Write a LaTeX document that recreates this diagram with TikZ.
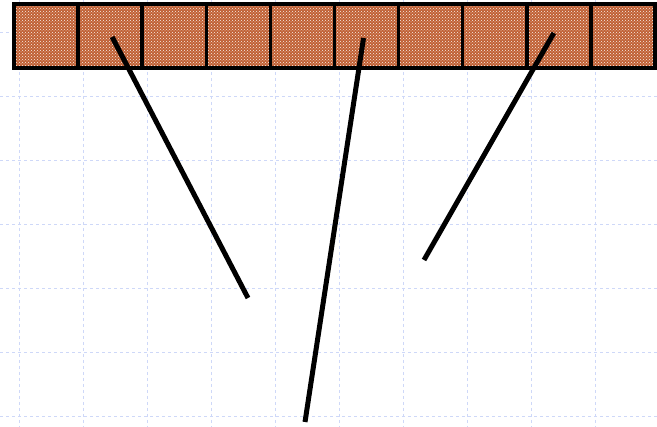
\documentclass[tikz,border=0pt]{standalone}
\usepackage{tikz}
\usetikzlibrary{positioning, calc, patterns}

\definecolor{brick}{RGB}{192,96,52}
\definecolor{gridlav}{RGB}{206,216,248}

\begin{document}
\begin{tikzpicture}[
        x=1pt, y=-1pt,
        cell/.style={draw, line width=3.5pt, minimum width=64.1pt, minimum height=64pt, inner sep=0pt, outer sep=0pt,
            preaction={fill=brick}, pattern=crosshatch dots, pattern color=white!90!brick},
        link/.style={line width=5pt},
        node distance=0pt
    ]
        \useasboundingbox (0,0) rectangle (657,427);

        % background grid
        \foreach \gx in {19,83,...,660} \draw[gridlav, dashed, line width=1pt] (\gx,0) -- (\gx,427);
        \foreach \gy in {33,97,...,430} \draw[gridlav, dashed, line width=1pt] (0,\gy) -- (657,\gy);

        % the row of cells
        \node[cell] (cell1) at (46.05,36) {};
        \foreach \i [remember=\i as \prev (initially 1)] in {2,...,10}
            \node[cell, right=of cell\prev] (cell\i) {};

        % free ends
        \coordinate (endA) at (248,298);
        \coordinate (endB) at (305,422);
        \coordinate (endC) at (424,260);

        \draw[link] ($(cell2.center)+(2,1)$) -- (endA);
        \draw[link] ($(cell6.center)+(-3,2)$) -- (endB);
        \draw[link] ($(cell9.center)+(-5,-3)$) -- (endC);
    \end{tikzpicture}
\end{document}
